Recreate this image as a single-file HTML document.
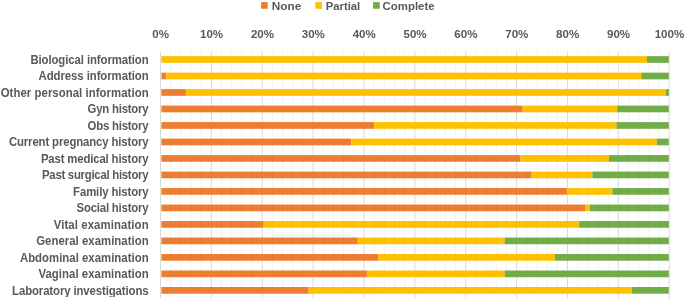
<!DOCTYPE html><html><head><meta charset="utf-8"><style>html,body{margin:0;padding:0;background:#fff;width:685px;height:300px;overflow:hidden}svg{display:block}text{font-family:"Liberation Sans",sans-serif;font-weight:bold;fill:#595959}</style></head><body>
<svg width="685" height="300" viewBox="0 0 685 300">
<defs><filter id="gs" filterUnits="userSpaceOnUse" x="0" y="0" width="685" height="300"><feColorMatrix type="saturate" values="0"/></filter></defs>
<rect width="685" height="300" fill="#fff"/>
<line x1="170.67" y1="51.26" x2="170.67" y2="298.61" stroke="#F2F2F2" stroke-width="1"/>
<line x1="180.85" y1="51.26" x2="180.85" y2="298.61" stroke="#F2F2F2" stroke-width="1"/>
<line x1="191.02" y1="51.26" x2="191.02" y2="298.61" stroke="#F2F2F2" stroke-width="1"/>
<line x1="201.20" y1="51.26" x2="201.20" y2="298.61" stroke="#F2F2F2" stroke-width="1"/>
<line x1="221.54" y1="51.26" x2="221.54" y2="298.61" stroke="#F2F2F2" stroke-width="1"/>
<line x1="231.72" y1="51.26" x2="231.72" y2="298.61" stroke="#F2F2F2" stroke-width="1"/>
<line x1="241.89" y1="51.26" x2="241.89" y2="298.61" stroke="#F2F2F2" stroke-width="1"/>
<line x1="252.07" y1="51.26" x2="252.07" y2="298.61" stroke="#F2F2F2" stroke-width="1"/>
<line x1="272.41" y1="51.26" x2="272.41" y2="298.61" stroke="#F2F2F2" stroke-width="1"/>
<line x1="282.59" y1="51.26" x2="282.59" y2="298.61" stroke="#F2F2F2" stroke-width="1"/>
<line x1="292.76" y1="51.26" x2="292.76" y2="298.61" stroke="#F2F2F2" stroke-width="1"/>
<line x1="302.94" y1="51.26" x2="302.94" y2="298.61" stroke="#F2F2F2" stroke-width="1"/>
<line x1="323.28" y1="51.26" x2="323.28" y2="298.61" stroke="#F2F2F2" stroke-width="1"/>
<line x1="333.46" y1="51.26" x2="333.46" y2="298.61" stroke="#F2F2F2" stroke-width="1"/>
<line x1="343.63" y1="51.26" x2="343.63" y2="298.61" stroke="#F2F2F2" stroke-width="1"/>
<line x1="353.81" y1="51.26" x2="353.81" y2="298.61" stroke="#F2F2F2" stroke-width="1"/>
<line x1="374.15" y1="51.26" x2="374.15" y2="298.61" stroke="#F2F2F2" stroke-width="1"/>
<line x1="384.33" y1="51.26" x2="384.33" y2="298.61" stroke="#F2F2F2" stroke-width="1"/>
<line x1="394.50" y1="51.26" x2="394.50" y2="298.61" stroke="#F2F2F2" stroke-width="1"/>
<line x1="404.68" y1="51.26" x2="404.68" y2="298.61" stroke="#F2F2F2" stroke-width="1"/>
<line x1="425.02" y1="51.26" x2="425.02" y2="298.61" stroke="#F2F2F2" stroke-width="1"/>
<line x1="435.20" y1="51.26" x2="435.20" y2="298.61" stroke="#F2F2F2" stroke-width="1"/>
<line x1="445.37" y1="51.26" x2="445.37" y2="298.61" stroke="#F2F2F2" stroke-width="1"/>
<line x1="455.55" y1="51.26" x2="455.55" y2="298.61" stroke="#F2F2F2" stroke-width="1"/>
<line x1="475.89" y1="51.26" x2="475.89" y2="298.61" stroke="#F2F2F2" stroke-width="1"/>
<line x1="486.07" y1="51.26" x2="486.07" y2="298.61" stroke="#F2F2F2" stroke-width="1"/>
<line x1="496.24" y1="51.26" x2="496.24" y2="298.61" stroke="#F2F2F2" stroke-width="1"/>
<line x1="506.42" y1="51.26" x2="506.42" y2="298.61" stroke="#F2F2F2" stroke-width="1"/>
<line x1="526.76" y1="51.26" x2="526.76" y2="298.61" stroke="#F2F2F2" stroke-width="1"/>
<line x1="536.94" y1="51.26" x2="536.94" y2="298.61" stroke="#F2F2F2" stroke-width="1"/>
<line x1="547.11" y1="51.26" x2="547.11" y2="298.61" stroke="#F2F2F2" stroke-width="1"/>
<line x1="557.29" y1="51.26" x2="557.29" y2="298.61" stroke="#F2F2F2" stroke-width="1"/>
<line x1="577.63" y1="51.26" x2="577.63" y2="298.61" stroke="#F2F2F2" stroke-width="1"/>
<line x1="587.81" y1="51.26" x2="587.81" y2="298.61" stroke="#F2F2F2" stroke-width="1"/>
<line x1="597.98" y1="51.26" x2="597.98" y2="298.61" stroke="#F2F2F2" stroke-width="1"/>
<line x1="608.16" y1="51.26" x2="608.16" y2="298.61" stroke="#F2F2F2" stroke-width="1"/>
<line x1="628.50" y1="51.26" x2="628.50" y2="298.61" stroke="#F2F2F2" stroke-width="1"/>
<line x1="638.68" y1="51.26" x2="638.68" y2="298.61" stroke="#F2F2F2" stroke-width="1"/>
<line x1="648.85" y1="51.26" x2="648.85" y2="298.61" stroke="#F2F2F2" stroke-width="1"/>
<line x1="659.03" y1="51.26" x2="659.03" y2="298.61" stroke="#F2F2F2" stroke-width="1"/>
<line x1="160.50" y1="51.26" x2="160.50" y2="298.61" stroke="#D9D9D9" stroke-width="1"/>
<line x1="211.37" y1="51.26" x2="211.37" y2="298.61" stroke="#D9D9D9" stroke-width="1"/>
<line x1="262.24" y1="51.26" x2="262.24" y2="298.61" stroke="#D9D9D9" stroke-width="1"/>
<line x1="313.11" y1="51.26" x2="313.11" y2="298.61" stroke="#D9D9D9" stroke-width="1"/>
<line x1="363.98" y1="51.26" x2="363.98" y2="298.61" stroke="#D9D9D9" stroke-width="1"/>
<line x1="414.85" y1="51.26" x2="414.85" y2="298.61" stroke="#D9D9D9" stroke-width="1"/>
<line x1="465.72" y1="51.26" x2="465.72" y2="298.61" stroke="#D9D9D9" stroke-width="1"/>
<line x1="516.59" y1="51.26" x2="516.59" y2="298.61" stroke="#D9D9D9" stroke-width="1"/>
<line x1="567.46" y1="51.26" x2="567.46" y2="298.61" stroke="#D9D9D9" stroke-width="1"/>
<line x1="618.33" y1="51.26" x2="618.33" y2="298.61" stroke="#D9D9D9" stroke-width="1"/>
<line x1="669.20" y1="51.26" x2="669.20" y2="298.61" stroke="#D9D9D9" stroke-width="1"/>
<rect x="161.40" y="56.15" width="485.60" height="6.70" fill="#FFC000"/>
<rect x="647.00" y="56.15" width="21.80" height="6.70" fill="#70AD47"/>
<rect x="161.40" y="72.64" width="4.90" height="6.70" fill="#ED7D31"/>
<rect x="166.30" y="72.64" width="475.00" height="6.70" fill="#FFC000"/>
<rect x="641.30" y="72.64" width="27.50" height="6.70" fill="#70AD47"/>
<rect x="161.40" y="89.13" width="24.50" height="6.70" fill="#ED7D31"/>
<rect x="185.90" y="89.13" width="479.90" height="6.70" fill="#FFC000"/>
<rect x="665.80" y="89.13" width="3.00" height="6.70" fill="#70AD47"/>
<rect x="161.40" y="105.62" width="361.30" height="6.70" fill="#ED7D31"/>
<rect x="522.70" y="105.62" width="94.50" height="6.70" fill="#FFC000"/>
<rect x="617.20" y="105.62" width="51.60" height="6.70" fill="#70AD47"/>
<rect x="161.40" y="122.11" width="212.80" height="6.70" fill="#ED7D31"/>
<rect x="374.20" y="122.11" width="242.30" height="6.70" fill="#FFC000"/>
<rect x="616.50" y="122.11" width="52.30" height="6.70" fill="#70AD47"/>
<rect x="161.40" y="138.60" width="189.90" height="6.70" fill="#ED7D31"/>
<rect x="351.30" y="138.60" width="305.50" height="6.70" fill="#FFC000"/>
<rect x="656.80" y="138.60" width="12.00" height="6.70" fill="#70AD47"/>
<rect x="161.40" y="155.09" width="359.10" height="6.70" fill="#ED7D31"/>
<rect x="520.50" y="155.09" width="88.50" height="6.70" fill="#FFC000"/>
<rect x="609.00" y="155.09" width="59.80" height="6.70" fill="#70AD47"/>
<rect x="161.40" y="171.58" width="370.30" height="6.70" fill="#ED7D31"/>
<rect x="531.70" y="171.58" width="60.60" height="6.70" fill="#FFC000"/>
<rect x="592.30" y="171.58" width="76.50" height="6.70" fill="#70AD47"/>
<rect x="161.40" y="188.07" width="405.50" height="6.70" fill="#ED7D31"/>
<rect x="566.90" y="188.07" width="45.40" height="6.70" fill="#FFC000"/>
<rect x="612.30" y="188.07" width="56.50" height="6.70" fill="#70AD47"/>
<rect x="161.40" y="204.56" width="423.60" height="6.70" fill="#ED7D31"/>
<rect x="585.00" y="204.56" width="4.90" height="6.70" fill="#FFC000"/>
<rect x="589.90" y="204.56" width="78.90" height="6.70" fill="#70AD47"/>
<rect x="161.40" y="221.05" width="102.30" height="6.70" fill="#ED7D31"/>
<rect x="263.70" y="221.05" width="315.40" height="6.70" fill="#FFC000"/>
<rect x="579.10" y="221.05" width="89.70" height="6.70" fill="#70AD47"/>
<rect x="161.40" y="237.54" width="196.40" height="6.70" fill="#ED7D31"/>
<rect x="357.80" y="237.54" width="146.90" height="6.70" fill="#FFC000"/>
<rect x="504.70" y="237.54" width="164.10" height="6.70" fill="#70AD47"/>
<rect x="161.40" y="254.03" width="217.20" height="6.70" fill="#ED7D31"/>
<rect x="378.60" y="254.03" width="176.40" height="6.70" fill="#FFC000"/>
<rect x="555.00" y="254.03" width="113.80" height="6.70" fill="#70AD47"/>
<rect x="161.40" y="270.52" width="205.50" height="6.70" fill="#ED7D31"/>
<rect x="366.90" y="270.52" width="137.80" height="6.70" fill="#FFC000"/>
<rect x="504.70" y="270.52" width="164.10" height="6.70" fill="#70AD47"/>
<rect x="161.40" y="287.01" width="147.20" height="6.70" fill="#ED7D31"/>
<rect x="308.60" y="287.01" width="323.20" height="6.70" fill="#FFC000"/>
<rect x="631.80" y="287.01" width="37.00" height="6.70" fill="#70AD47"/>
<rect x="261.1" y="2.1" width="6.6" height="6.7" fill="#ED7D31"/>
<rect x="315.3" y="2.1" width="6.6" height="6.7" fill="#FFC000"/>
<rect x="373.1" y="2.1" width="6.6" height="6.7" fill="#70AD47"/>
<g filter="url(#gs)">
<text transform="scale(0.950,1)" x="32.00" y="63.87" font-size="12.00" textLength="124.42" lengthAdjust="spacing">Biological information</text>
<text transform="scale(0.950,1)" x="40.53" y="80.36" font-size="12.00" textLength="115.89" lengthAdjust="spacing">Address information</text>
<text transform="scale(0.950,1)" x="0.74" y="96.85" font-size="12.00" textLength="155.68" lengthAdjust="spacing">Other personal information</text>
<text transform="scale(0.950,1)" x="92.21" y="113.34" font-size="12.00" textLength="64.21" lengthAdjust="spacing">Gyn history</text>
<text transform="scale(0.950,1)" x="92.21" y="129.83" font-size="12.00" textLength="64.21" lengthAdjust="spacing">Obs history</text>
<text transform="scale(0.950,1)" x="9.37" y="146.32" font-size="12.00" textLength="147.05" lengthAdjust="spacing">Current pregnancy history</text>
<text transform="scale(0.950,1)" x="43.05" y="162.81" font-size="12.00" textLength="113.37" lengthAdjust="spacing">Past medical history</text>
<text transform="scale(0.950,1)" x="44.21" y="179.30" font-size="12.00" textLength="112.21" lengthAdjust="spacing">Past surgical history</text>
<text transform="scale(0.950,1)" x="76.95" y="195.79" font-size="12.00" textLength="79.47" lengthAdjust="spacing">Family history</text>
<text transform="scale(0.950,1)" x="80.63" y="212.28" font-size="12.00" textLength="75.79" lengthAdjust="spacing">Social history</text>
<text transform="scale(0.950,1)" x="56.53" y="228.77" font-size="12.00" textLength="99.89" lengthAdjust="spacing">Vital examination</text>
<text transform="scale(0.950,1)" x="38.11" y="245.26" font-size="12.00" textLength="118.32" lengthAdjust="spacing">General examination</text>
<text transform="scale(0.950,1)" x="20.95" y="261.75" font-size="12.00" textLength="135.47" lengthAdjust="spacing">Abdominal examination</text>
<text transform="scale(0.950,1)" x="40.53" y="278.24" font-size="12.00" textLength="115.89" lengthAdjust="spacing">Vaginal examination</text>
<text transform="scale(0.950,1)" x="12.74" y="294.73" font-size="12.00" textLength="143.68" lengthAdjust="spacing">Laboratory investigations</text>
<text transform="translate(160.70,0) scale(1.05,1)" x="0" y="38.4" font-size="11" text-anchor="middle">0%</text>
<text transform="translate(211.57,0) scale(1.05,1)" x="0" y="38.4" font-size="11" text-anchor="middle">10%</text>
<text transform="translate(262.44,0) scale(1.05,1)" x="0" y="38.4" font-size="11" text-anchor="middle">20%</text>
<text transform="translate(313.31,0) scale(1.05,1)" x="0" y="38.4" font-size="11" text-anchor="middle">30%</text>
<text transform="translate(364.18,0) scale(1.05,1)" x="0" y="38.4" font-size="11" text-anchor="middle">40%</text>
<text transform="translate(415.05,0) scale(1.05,1)" x="0" y="38.4" font-size="11" text-anchor="middle">50%</text>
<text transform="translate(465.92,0) scale(1.05,1)" x="0" y="38.4" font-size="11" text-anchor="middle">60%</text>
<text transform="translate(516.79,0) scale(1.05,1)" x="0" y="38.4" font-size="11" text-anchor="middle">70%</text>
<text transform="translate(567.66,0) scale(1.05,1)" x="0" y="38.4" font-size="11" text-anchor="middle">80%</text>
<text transform="translate(618.53,0) scale(1.05,1)" x="0" y="38.4" font-size="11" text-anchor="middle">90%</text>
<text transform="translate(669.40,0) scale(1.05,1)" x="0" y="38.4" font-size="11" text-anchor="middle">100%</text>
<text x="271.8" y="9.6" font-size="11.3" textLength="29.4" lengthAdjust="spacingAndGlyphs">None</text>
<text x="325.8" y="9.6" font-size="11.3" textLength="34.4" lengthAdjust="spacingAndGlyphs">Partial</text>
<text x="382.6" y="9.6" font-size="11.3" textLength="52" lengthAdjust="spacingAndGlyphs">Complete</text>
</g>
</svg></body></html>
